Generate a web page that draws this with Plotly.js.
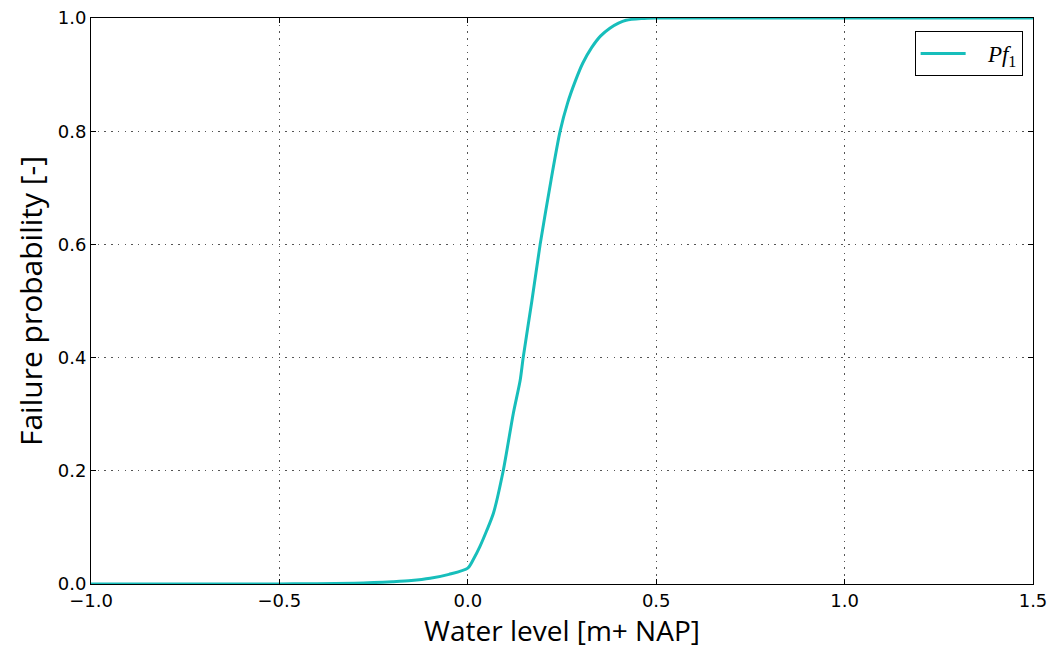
<!DOCTYPE html>
<html>
<head>
<meta charset="utf-8">
<script src="https://cdn.plot.ly/plotly-3.0.1.min.js"></script>
<style>html,body{margin:0;padding:0;background:#fff;}#chart{width:1053px;height:650px;}</style>
</head>
<body>
<div id="chart"></div>
<script>
const waterLevel = [-1.0, -0.5, -0.4, -0.3, -0.25, -0.2, -0.15, -0.1, -0.05, 0.0, 0.016, 0.032, 0.05, 0.068, 0.094, 0.121, 0.139, 0.147, 0.17, 0.192, 0.221, 0.245, 0.265, 0.285, 0.305, 0.329, 0.352, 0.377, 0.40, 0.42, 0.46, 0.5, 1.5];
const failureProb = [0.0, 0.0002, 0.0005, 0.0015, 0.0025, 0.004, 0.006, 0.010, 0.017, 0.028, 0.045, 0.066, 0.094, 0.125, 0.2, 0.302, 0.36, 0.4, 0.5, 0.6, 0.714, 0.8, 0.85, 0.888, 0.92, 0.948, 0.968, 0.982, 0.991, 0.996, 0.999, 1.0, 1.0];
const seriesName = '&nbsp;&nbsp;&nbsp;<i>Pf</i><sub>1</sub>';
const xTicks = [-1.0, -0.5, 0.0, 0.5, 1.0, 1.5];
const yTicks = [0.0, 0.2, 0.4, 0.6, 0.8, 1.0];

const trace = {
  x: waterLevel, y: failureProb, type: 'scatter', mode: 'lines',
  name: seriesName, line: {color: '#17bebb', width: 3, shape: 'spline', smoothing: 0.7}
};
const axisCommon = {
  showline: true, linecolor: '#000', linewidth: 1, mirror: 'allticks',
  ticks: 'inside', ticklen: 5, tickcolor: '#000', tickwidth: 1,
  showgrid: true, gridcolor: '#555', griddash: '1.5px,5.2px', gridwidth: 1,
  zeroline: false, tickfont: {family: 'DejaVu Sans', size: 18, color: '#000'},
  tickformat: '.1f'
};
const layout = {
  width: 1053, height: 650,
  margin: {l: 91, r: 20, t: 18, b: 66},
  paper_bgcolor: '#fff', plot_bgcolor: '#fff',
  showlegend: true,
  legend: {x: 0.989, xanchor: 'right', y: 0.977, yanchor: 'top',
           bordercolor: '#000', borderwidth: 1, bgcolor: '#fff',
           itemwidth: 45,
           font: {family: 'Liberation Serif', size: 23, color: '#000'}},
  xaxis: Object.assign({}, axisCommon, {
    range: [-1.0, 1.5], tickvals: xTicks,
    title: {text: 'Water level [m+ NAP]', font: {family: 'Open Sans', size: 28, color: '#000'}, standoff: 4}
  }),
  yaxis: Object.assign({}, axisCommon, {
    range: [0.0, 1.0], tickvals: yTicks,
    title: {text: 'Failure probability [-]', font: {family: 'Open Sans', size: 30, color: '#000'}, standoff: 6}
  })
};
Plotly.newPlot('chart', [trace], layout, {displayModeBar: false, staticPlot: true});
</script>
</body>
</html>
